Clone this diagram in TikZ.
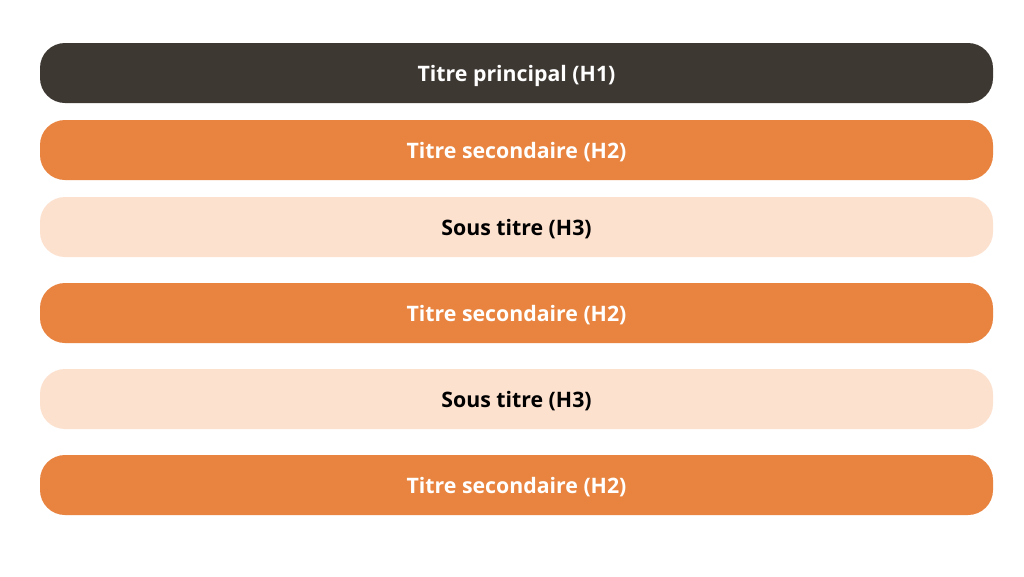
\documentclass[tikz,border=0pt]{standalone}
\usepackage{fontspec}
\setmainfont{Open Sans}
\definecolor{darkbar}{HTML}{3E3833}
\definecolor{orangebar}{HTML}{E8843F}
\definecolor{lightbar}{HTML}{FDE1CF}
\tikzset{
  bar/.style={rounded corners=25pt, minimum width=953pt, minimum height=60pt, inner sep=0pt,
    font=\fontsize{21.3}{24}\selectfont\bfseries, anchor=center, text height=19pt, text depth=2pt},
  hone/.style={bar, fill=darkbar, text=white},
  htwo/.style={bar, fill=orangebar, text=white},
  hthree/.style={bar, fill=lightbar, text=black},
}
\begin{document}
\begin{tikzpicture}[x=1pt,y=-1pt]
\useasboundingbox[fill=white] (0,0) rectangle (1024,576);
\node[hone] (h1) at (516.5,73) {Titre principal (H1)};
\node[htwo] (h2a) at (516.5,150) {Titre secondaire (H2)};
\node[hthree] (h3a) at (516.5,227) {Sous titre (H3)};
\node[htwo] (h2b) at (516.5,313) {Titre secondaire (H2)};
\node[hthree] (h3b) at (516.5,399) {Sous titre (H3)};
\node[htwo] (h2c) at (516.5,485) {Titre secondaire (H2)};
\end{tikzpicture}
\end{document}
